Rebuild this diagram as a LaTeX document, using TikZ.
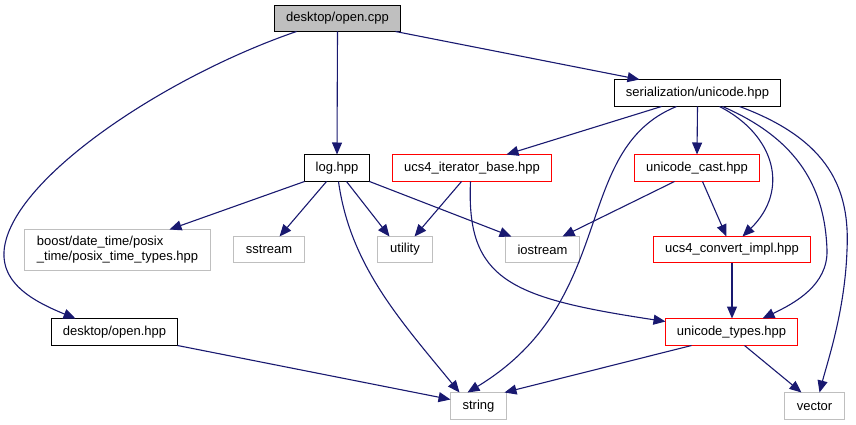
\documentclass[tikz,border=0pt]{standalone}
\usepackage{fontspec}
\setmainfont{Liberation Sans}
\usetikzlibrary{arrows.meta}
\definecolor{edgeblue}{HTML}{191970}
\definecolor{lgray}{HTML}{BFBFBF}
\definecolor{nodered}{HTML}{FF0000}
\tikzset{
  box/.style={line width=1pt, inner sep=0pt, font=\fontsize{13}{15}\selectfont},
  border/.style={line width=1pt},
  edge/.style={draw=edgeblue, line width=1.1pt, -{Triangle[length=12pt,width=10pt]}},
}
\begin{document}
\begin{tikzpicture}[x=1pt,y=-1pt]
\useasboundingbox (0,0) rectangle (856,425);
% nodes
\node[box, fill=lgray, minimum width=125pt, minimum height=25pt] (cpp) at (337.5,18.5) {desktop/open.cpp};
\node[box, minimum width=165pt, minimum height=26pt] (ser) at (697.5,93) {serialization/unicode.hpp};
\node[box, minimum width=64pt, minimum height=26pt] (log) at (337,168) {log.hpp};
\node[box, minimum width=158pt, minimum height=26pt] (iter) at (472,168) {ucs4\_iterator\_base.hpp};
\node[box, minimum width=124pt, minimum height=26pt] (cast) at (697,168) {unicode\_cast.hpp};
\node[box, minimum width=185pt, minimum height=40pt, align=left] (boost) at (117.5,250) {boost/date\_time/posix\\\_time/posix\_time\_types.hpp};
\node[box, minimum width=70pt, minimum height=25pt] (sstream) at (269,249.5) {sstream};
\node[box, minimum width=54pt, minimum height=25pt] (utility) at (405,249.5) {utility};
\node[box, minimum width=73pt, minimum height=25pt] (iostream) at (542.5,249.5) {iostream};
\node[box, minimum width=156pt, minimum height=25pt] (conv) at (732,249.5) {ucs4\_convert\_impl.hpp};
\node[box, minimum width=125pt, minimum height=26pt] (ohpp) at (114.5,332) {desktop/open.hpp};
\node[box, minimum width=131pt, minimum height=26pt] (types) at (731.5,332) {unicode\_types.hpp};
\node[box, minimum width=55pt, minimum height=26pt] (string) at (478.5,406) {string};
\node[box, minimum width=59pt, minimum height=26pt] (vector) at (814.5,406) {vector};
% borders
\foreach \n in {cpp,ser,log,ohpp}
  \draw[border, draw=black] (\n.south west) rectangle (\n.north east);
\foreach \n in {iter,cast,conv,types}
  \draw[border, draw=nodered] (\n.south west) rectangle (\n.north east);
\foreach \n in {boost,sstream,utility,iostream,string,vector}
  \draw[border, draw=lgray] (\n.south west) rectangle (\n.north east);
% edges from cpp
\draw[edge] (cpp.south) -- (log.north);
\draw[edge] ([xshift=-5pt]cpp.south east) -- ([xshift=25pt]ser.north west);
\draw[edge] ([xshift=22pt]cpp.south west) .. controls (170,75) and (25,170) .. (6,240) .. controls (-5,280) and (30,300) .. ([xshift=24pt]ohpp.north west);
% edges from log
\draw[edge] (log.south west) -- ([xshift=145pt]boost.north west);
\draw[edge] ([xshift=22pt]log.south west) -- ([xshift=46pt]sstream.north west);
\draw[edge] ([xshift=34pt]log.south west) .. controls (350,265) and (400,320) .. ([xshift=9pt]string.north west);
\draw[edge] ([xshift=42pt]log.south west) -- ([xshift=12pt]utility.north west);
\draw[edge] (log.south east) -- ([xshift=6pt]iostream.north west);
% edges from iter
\draw[edge] ([xshift=69pt]iter.south west) -- ([xshift=37pt]utility.north west);
\draw[edge] ([xshift=78pt]iter.south west) .. controls (466,280) and (510,298) .. ([yshift=-3pt]types.north west);
% edges from ser
\draw[edge] ([xshift=47pt]ser.south west) -- ([xshift=114pt]iter.north west);
\draw[edge] (ser.south) -- (cast.north);
\draw[edge] ([xshift=62pt]ser.south west) .. controls (570,150) and (620,300) .. ([xshift=17pt]string.north west);
\draw[edge] ([xshift=105pt]ser.south west) .. controls (775,135) and (790,190) .. ([xshift=89pt]conv.north west);
\draw[edge] ([xshift=108pt]ser.south west) .. controls (800,140) and (825,190) .. (827,250) .. controls (828,285) and (795,303) .. ([xshift=97pt]types.north west);
\draw[edge] ([xshift=125pt]ser.south west) .. controls (830,140) and (850,190) .. (847,250) .. controls (845,310) and (828,360) .. ([xshift=35pt]vector.north west);
% edges from cast
\draw[edge] ([xshift=40pt]cast.south west) -- ([xshift=57pt]iostream.north west);
\draw[edge] ([xshift=68pt]cast.south west) -- ([xshift=73pt]conv.north west);
% conv
\draw[edge] (conv.south) -- ([xshift=0.5pt]types.north);
% ohpp
\draw[edge] (ohpp.south east) -- ([yshift=-7pt]string.north west);
% types
\draw[edge] ([xshift=26pt]types.south west) -- ([xshift=54pt]string.north west);
\draw[edge] ([xshift=79pt]types.south west) -- ([xshift=17pt]vector.north west);
\end{tikzpicture}
\end{document}
